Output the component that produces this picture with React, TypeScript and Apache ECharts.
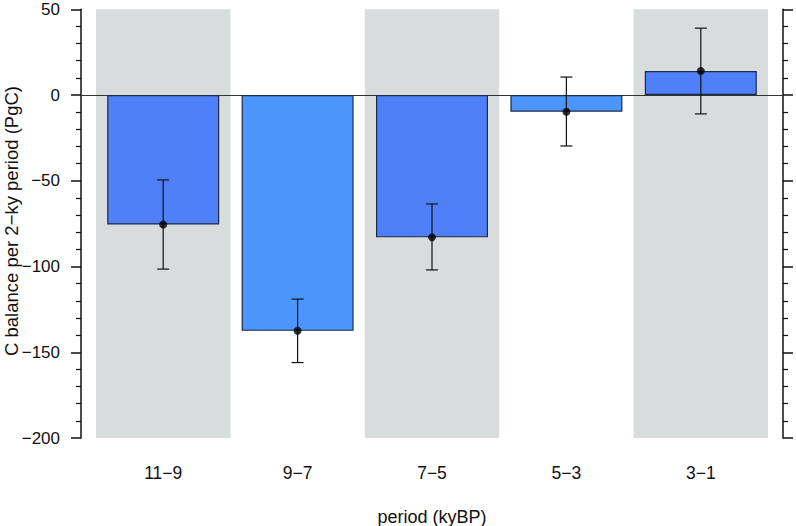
import React, { useEffect, useRef } from "react";
import * as echarts from "echarts";

const categories = ["11−9", "9−7", "7−5", "5−3", "3−1"];
const values = [-75.5, -137.5, -83, -9.7, 14];
const errLow = [-101.5, -156, -102, -29.7, -11];
const errHigh = [-49.5, -119, -63.5, 10.5, 39];
const barColors = ["#4f80fa", "#4b95fd", "#4f80fa", "#4b95fd", "#4f80fa"];
const yMin = -200;
const yMax = 50;
const yInterval = 50;
const yTitle = "C balance per 2−ky period (PgC)";
const xTitle = "period (kyBP)";

const FONT = "'Liberation Sans', Arial, Helvetica, sans-serif";
const TXT = "#111";

export default function App() {
  const ref = useRef<HTMLDivElement>(null);
  useEffect(() => {
    if (!ref.current) return;
    const chart = echarts.init(ref.current, null, { renderer: "svg" });
    const gridTop = 9.3;
    const gridBottom = 88;
    const yCommon = {
      type: "value" as const,
      min: yMin,
      max: yMax,
      interval: yInterval,
      splitLine: { show: false },
      axisLine: { show: true, lineStyle: { color: "#111", width: 1.5 } },
      axisTick: { show: true, inside: false, length: 10, lineStyle: { color: "#111", width: 1.5 } },
      minorTick: { show: true, splitNumber: 5, length: 5, lineStyle: { color: "#111", width: 1.2 } },
      minorSplitLine: { show: false },
    };
    chart.setOption({
      animation: false,
      grid: [
        { left: 81, right: 13, top: gridTop, bottom: gridBottom, outerBoundsMode: "none", containLabel: false },
        { left: 96, right: 28, top: gridTop, bottom: gridBottom, outerBoundsMode: "none", containLabel: false },
      ],
      graphic: [
        {
          type: "text",
          x: 11,
          y: 221,
          rotation: Math.PI / 2,
          style: {
            text: yTitle,
            font: `18.5px ${FONT}`,
            fill: TXT,
            align: "center",
            verticalAlign: "middle",
          },
        },
      ],
      xAxis: [
        {
          gridIndex: 0,
          type: "value",
          min: 0,
          max: 1,
          z: 1,
          axisLine: { show: true, onZero: true, onZeroAxisIndex: 0, lineStyle: { color: "#333", width: 1 } },
          axisTick: { show: false },
          axisLabel: { show: false },
          splitLine: { show: false },
        },
        {
          gridIndex: 1,
          type: "category",
          data: categories,
          z: 0,
          axisLine: { show: false },
          axisTick: { show: false },
          axisLabel: { show: true, margin: 26, fontSize: 17.5, color: TXT, fontFamily: FONT, interval: 0 },
          splitArea: { show: true, interval: 0, areaStyle: { color: ["#d9dcdd", "rgba(255,255,255,0)"] } },
          splitLine: { show: false },
          name: xTitle,
          nameLocation: "middle",
          nameGap: 70,
          nameTextStyle: { fontSize: 18, color: TXT, fontFamily: FONT },
        },
      ],
      yAxis: [
        {
          ...yCommon,
          gridIndex: 0,
          position: "left",
          axisLabel: {
            show: true,
            margin: 21,
            fontSize: 17,
            color: TXT,
            fontFamily: FONT,
            formatter: (v: number) => String(v).replace("-", "−"),
          },
        },
        {
          ...yCommon,
          gridIndex: 0,
          position: "right",
          axisLabel: { show: false },
        },
        {
          gridIndex: 1,
          type: "value",
          min: yMin,
          max: yMax,
          interval: yInterval,
          show: false,
        },
      ],
      series: [
        {
          type: "bar",
          xAxisIndex: 1,
          yAxisIndex: 2,
          barWidth: 112,
          z: 2,
          data: values.map((v, i) => ({
            value: v,
            itemStyle: { color: barColors[i], borderColor: "#1c2a48", borderWidth: 1.2 },
          })),
        },
        {
          type: "custom",
          xAxisIndex: 1,
          yAxisIndex: 2,
          z: 4,
          encode: { x: 0, y: [1, 2] },
          data: categories.map((_, i) => [i, errLow[i], errHigh[i]]),
          renderItem: (params: any, api: any) => {
            const x = api.value(0);
            const pLo = api.coord([x, api.value(1)]);
            const pHi = api.coord([x, api.value(2)]);
            const cap = 6;
            const style = { stroke: "#111", lineWidth: 1.2 };
            return {
              type: "group",
              children: [
                { type: "line", shape: { x1: pHi[0], y1: pHi[1], x2: pLo[0], y2: pLo[1] }, style },
                { type: "line", shape: { x1: pHi[0] - cap, y1: pHi[1], x2: pHi[0] + cap, y2: pHi[1] }, style },
                { type: "line", shape: { x1: pLo[0] - cap, y1: pLo[1], x2: pLo[0] + cap, y2: pLo[1] }, style },
              ],
            };
          },
        },
        {
          type: "scatter",
          xAxisIndex: 1,
          yAxisIndex: 2,
          z: 5,
          symbol: "circle",
          symbolSize: 8,
          itemStyle: { color: "#000" },
          data: values,
        },
      ],
    });
    return () => chart.dispose();
  }, []);
  return (
    <div
      ref={ref}
      style={{ position: "fixed", left: 0, top: 0, width: 796, height: 526, background: "#fff" }}
    />
  );
}
